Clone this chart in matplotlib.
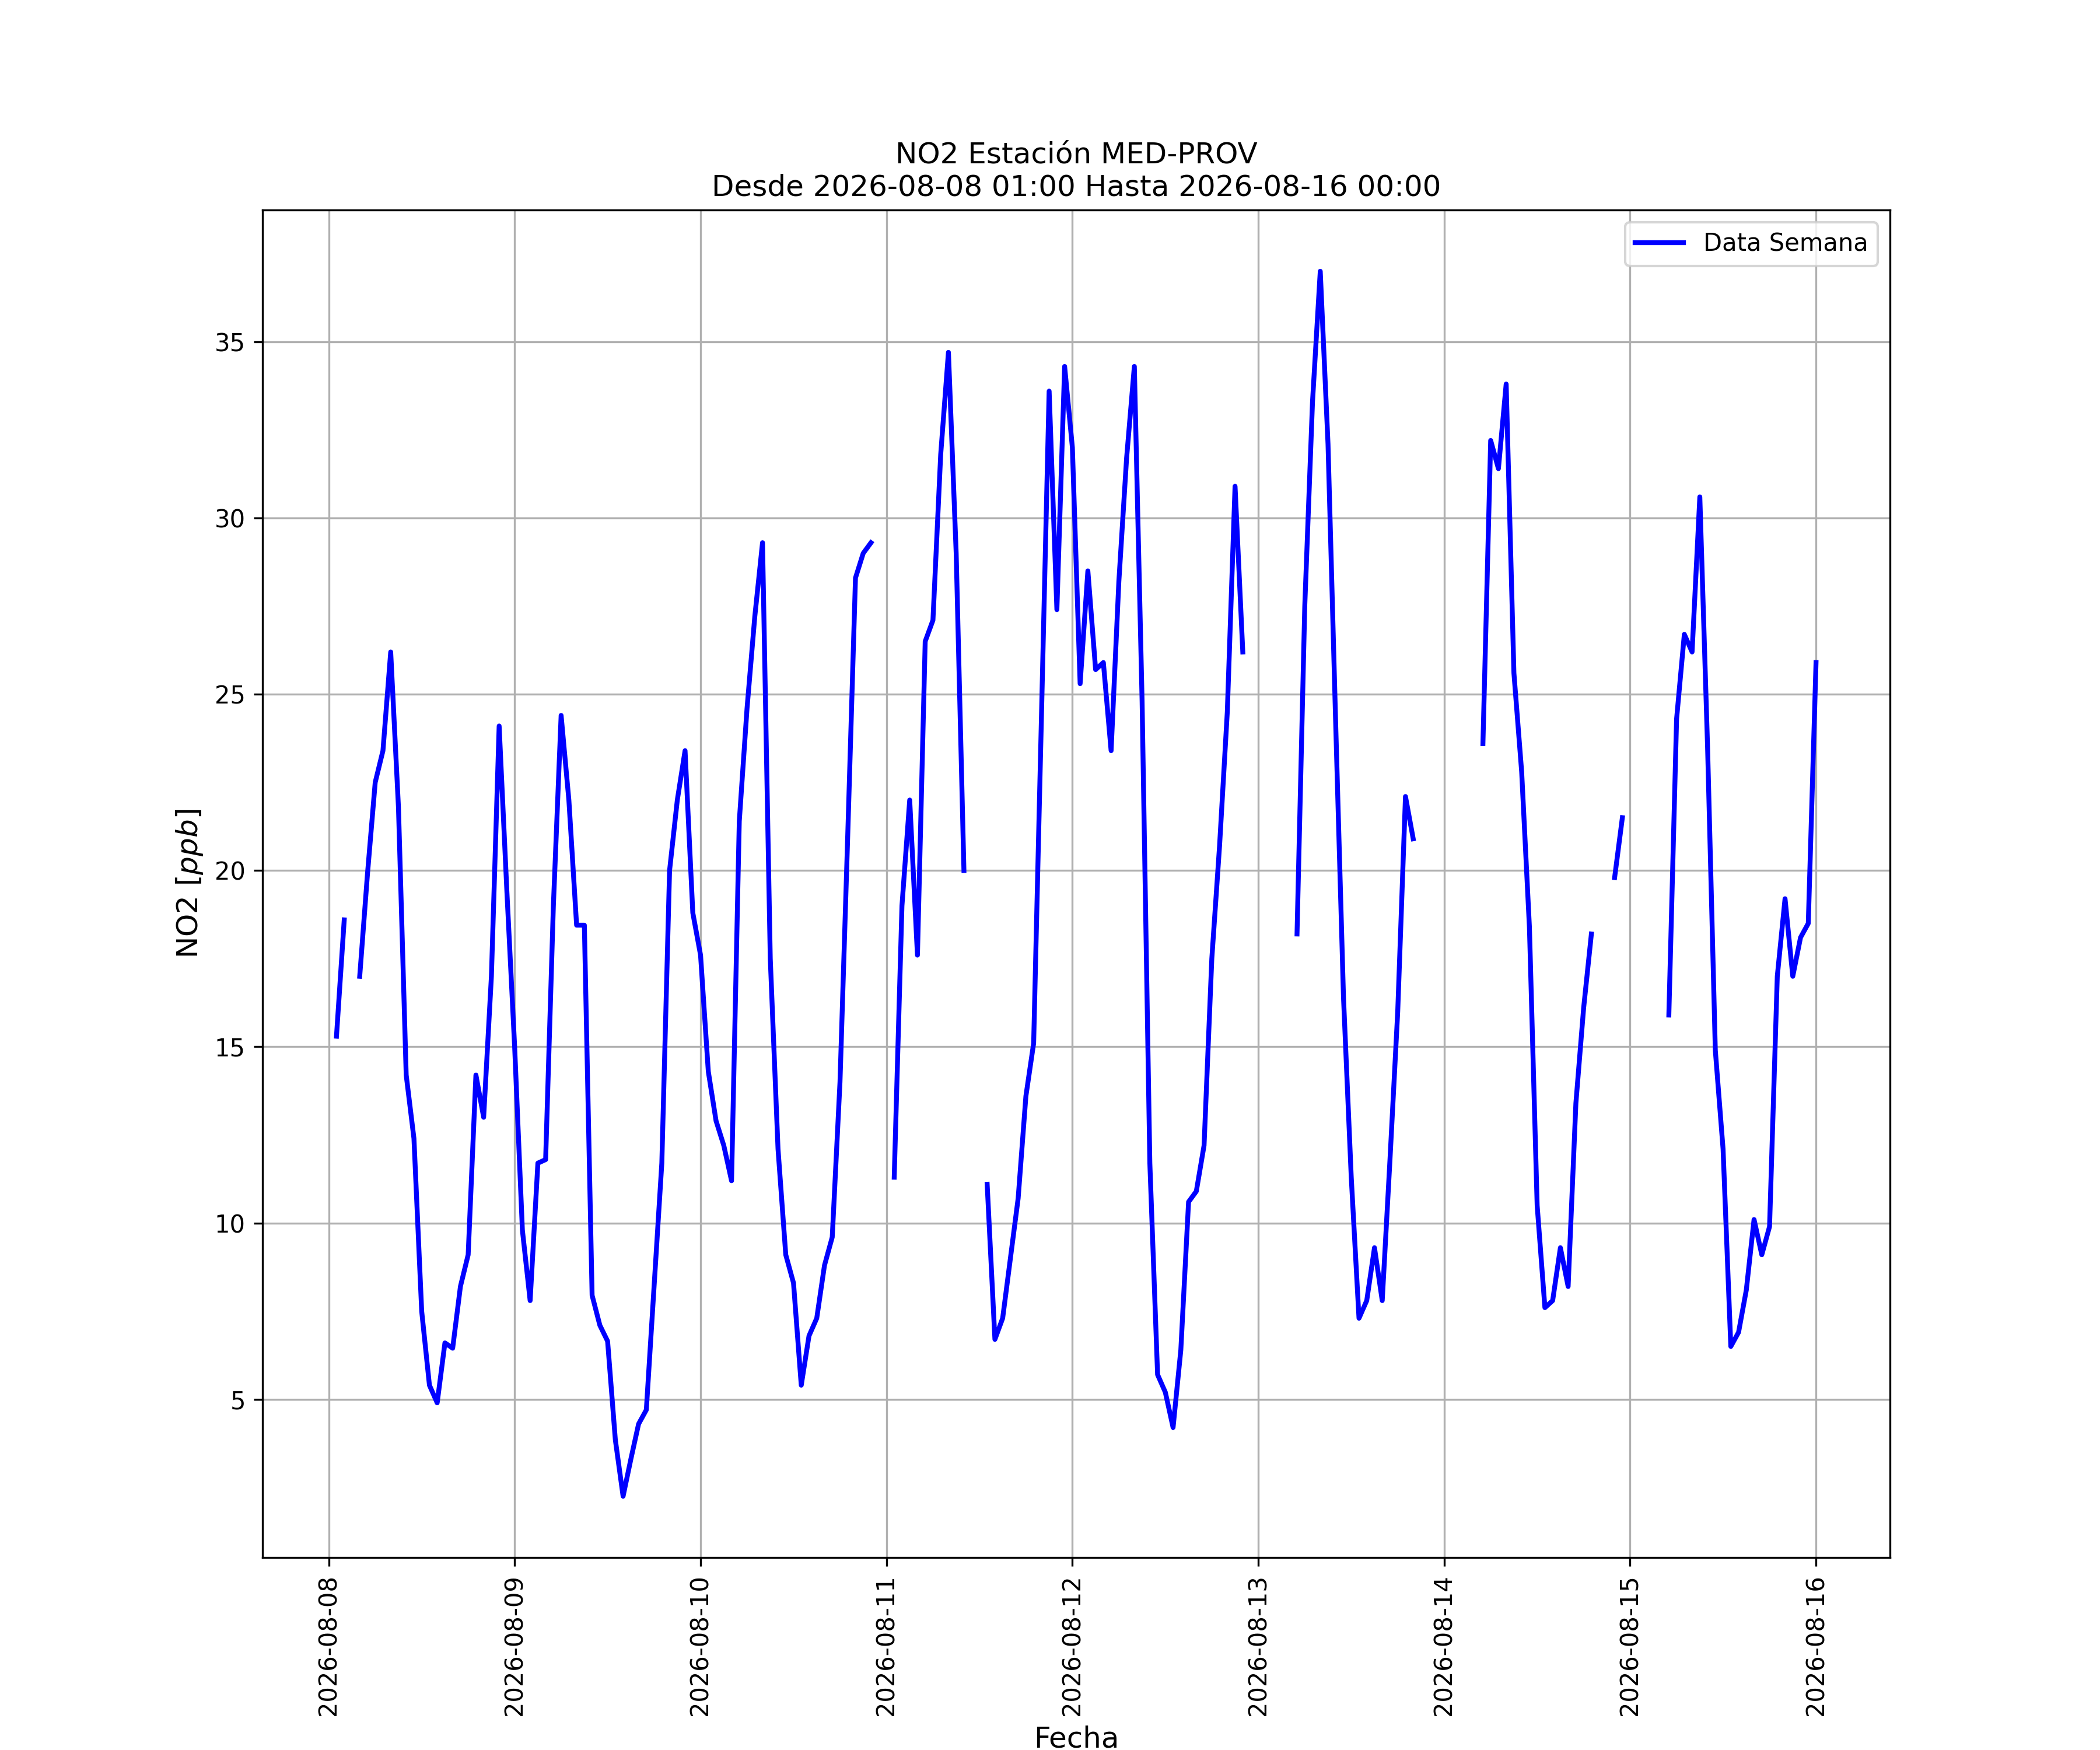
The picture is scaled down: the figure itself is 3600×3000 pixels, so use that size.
import numpy as np
import pandas as pd
import matplotlib
matplotlib.use("Agg")
import matplotlib.pyplot as plt
import matplotlib.dates as mdates

nan = np.nan

# hourly NO2 readings, 2026-08-08 01:00 .. 2026-08-16 00:00 (gaps = missing)
start = "2026-08-08 01:00"
no2_day1 = [15.3, 18.6, nan, 17.0, 19.9, 22.5, 23.4, 26.2, 21.8, 14.2, 12.4, 7.5,
            5.4, 4.9, 6.6, 6.45, 8.2, 9.1, 14.2, 13.0, 17.0, 24.1, 19.4, 15.0]
no2_day2 = [9.8, 7.8, 11.7, 11.8, 19.0, 24.4, 22.0, 18.45, 18.45, 7.95, 7.1, 6.65,
            3.85, 2.25, 3.3, 4.3, 4.7, 8.2, 11.7, 20.0, 22.0, 23.4, 18.8, 17.6]
no2_day3 = [14.3, 12.9, 12.2, 11.2, 21.4, 24.6, 27.2, 29.3, 17.5, 12.1, 9.1, 8.3,
            5.4, 6.8, 7.3, 8.8, 9.6, 14.0, 21.0, 28.3, 29.0, 29.3, nan, nan]
no2_day4 = [11.3, 19.0, 22.0, 17.6, 26.5, 27.1, 31.8, 34.7, 29.0, 20.0, nan, nan,
            11.1, 6.7, 7.3, 9.0, 10.7, 13.6, 15.1, 24.3, 33.6, 27.4, 34.3, 32.0]
no2_day5 = [25.3, 28.5, 25.7, 25.9, 23.4, 28.2, 31.7, 34.3, 24.8, 11.7, 5.7, 5.2,
            4.2, 6.4, 10.6, 10.9, 12.2, 17.5, 20.7, 24.5, 30.9, 26.2, nan, nan]
no2_day6 = [nan, nan, nan, nan, 18.2, 27.5, 33.3, 37.0, 32.1, 24.1, 16.4, 11.3,
            7.3, 7.8, 9.3, 7.8, 11.8, 16.0, 22.1, 20.9, nan, nan, nan, nan]
no2_day7 = [nan, nan, nan, nan, 23.6, 32.2, 31.4, 33.8, 25.6, 22.8, 18.4, 10.5,
            7.6, 7.8, 9.3, 8.2, 13.4, 16.1, 18.2, nan, nan, 19.8, 21.5, nan]
no2_day8 = [nan, nan, nan, nan, 15.9, 24.3, 26.7, 26.2, 30.6, 23.5, 14.9, 12.1,
            6.5, 6.9, 8.1, 10.1, 9.1, 9.9, 17.0, 19.2, 17.0, 18.1, 18.5, 25.9]

values = (no2_day1 + no2_day2 + no2_day3 + no2_day4 +
          no2_day5 + no2_day6 + no2_day7 + no2_day8)
fechas = pd.date_range(start, periods=len(values), freq="h")

fig = plt.figure(figsize=(12, 10), dpi=300)
ax = fig.add_subplot(111)
ax.plot(fechas, values, color="blue", linewidth=2, label="Data Semana")

ax.set_title("NO2 Estación MED-PROV\nDesde 2026-08-08 01:00 Hasta 2026-08-16 00:00",
             fontsize=12)
ax.set_xlabel("Fecha", fontsize=12)
ax.set_ylabel("NO2 $[ppb]$", fontsize=12)
ax.xaxis.set_major_locator(mdates.DayLocator())
ax.xaxis.set_major_formatter(mdates.DateFormatter("%Y-%m-%d"))
plt.xticks(rotation=90)
ax.grid(True)
ax.legend(loc="upper right")

fig.savefig("out.png", dpi=300)
